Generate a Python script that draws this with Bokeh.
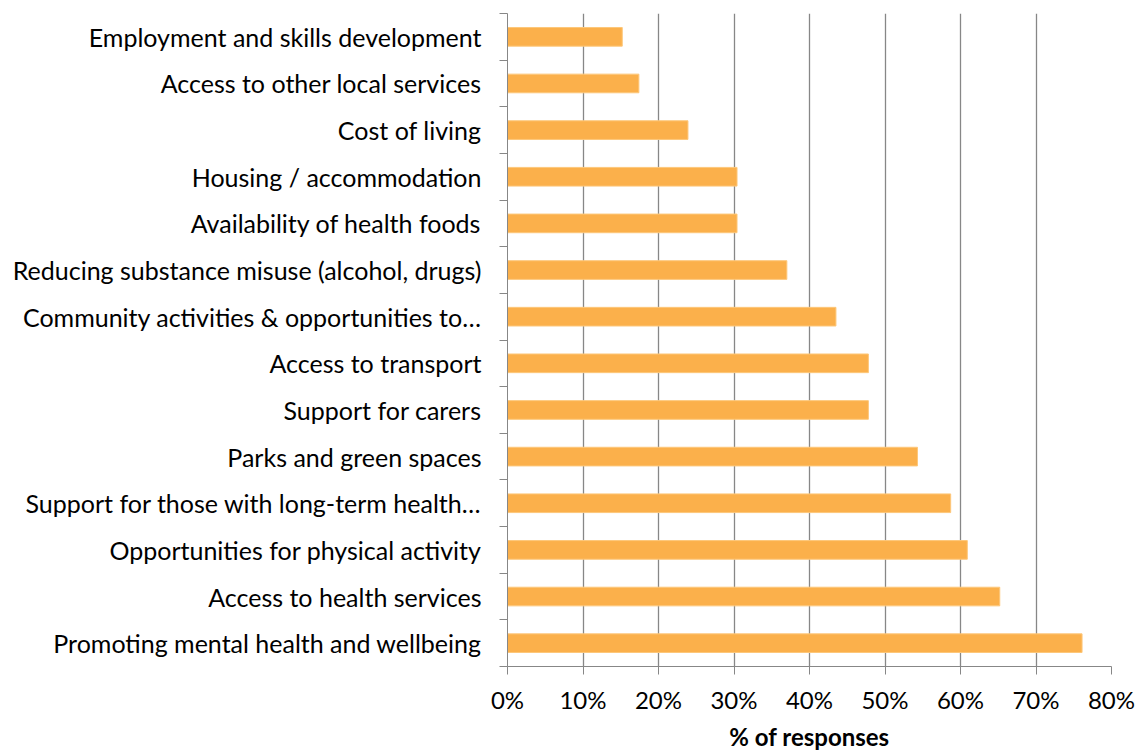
from bokeh.plotting import figure
from bokeh.models import FixedTicker, Range1d, ColumnDataSource, NumeralTickFormatter
from bokeh.embed import file_html
from bokeh.resources import INLINE

# bottom-to-top order
categories = [
    "Promoting mental health and wellbeing",
    "Access to health services",
    "Opportunities for physical activity",
    "Support for those with long-term health…",
    "Parks and green spaces",
    "Support for carers",
    "Access to transport",
    "Community activities & opportunities to…",
    "Reducing substance misuse (alcohol, drugs)",
    "Availability of health foods",
    "Housing / accommodation",
    "Cost of living",
    "Access to other local services",
    "Employment and skills development",
]
values = [0.761, 0.652, 0.609, 0.587, 0.543, 0.478, 0.478, 0.435, 0.370, 0.304, 0.304, 0.239, 0.174, 0.152]
x_ticks = [0, 0.1, 0.2, 0.3, 0.4, 0.5, 0.6, 0.7, 0.8]
x_title = "% of responses"

n = len(categories)
centers = [i + 0.5 for i in range(n)]
bounds = list(range(n + 1))

src = ColumnDataSource(dict(y=centers, v=values))

FONT = "Lato"
GRAY = "#878787"

p = figure(width=1139, height=753, output_backend="svg", toolbar_location=None,
           x_range=Range1d(0, 0.8), y_range=Range1d(0, n),
           min_border_left=507, min_border_right=28, min_border_top=13, min_border_bottom=85)
p.outline_line_color = None

p.hbar(y="y", right="v", left=0, height=0.4, source=src, fill_color="#FBB04B",
       line_color="#FDC77A", line_width=1)

# x axis
p.xaxis.ticker = FixedTicker(ticks=x_ticks)
p.xaxis.formatter = NumeralTickFormatter(format="0%")
p.xaxis.axis_line_color = GRAY
p.xaxis.major_tick_line_color = GRAY
p.xaxis.major_tick_out = 8
p.xaxis.major_tick_in = 0
p.xaxis.minor_tick_line_color = None
p.xaxis.major_label_text_font = FONT
p.xaxis.major_label_text_font_size = "24px"
p.xaxis.major_label_text_color = "#000000"
p.xaxis.major_label_standoff = 10
p.xaxis.axis_label = x_title
p.xaxis.axis_label_text_font = FONT
p.xaxis.axis_label_text_font_size = "24px"
p.xaxis.axis_label_text_font_style = "bold"
p.xaxis.axis_label_text_color = "#000000"
p.xaxis.axis_label_standoff = 5

# y axis
p.yaxis.ticker = FixedTicker(ticks=centers, minor_ticks=bounds)
p.yaxis.major_label_overrides = {c: lab for c, lab in zip(centers, categories)}
p.yaxis.axis_line_color = GRAY
p.yaxis.major_tick_line_color = None
p.yaxis.major_tick_out = 0
p.yaxis.major_tick_in = 0
p.yaxis.minor_tick_line_color = GRAY
p.yaxis.minor_tick_out = 8
p.yaxis.minor_tick_in = 0
p.yaxis.major_label_text_font = FONT
p.yaxis.major_label_text_font_size = "25px"
p.yaxis.major_label_text_color = "#000000"
p.yaxis.major_label_standoff = 18

p.xgrid.ticker = FixedTicker(ticks=x_ticks[1:])
p.xgrid.grid_line_color = GRAY
p.xgrid.grid_line_width = 1.3
p.ygrid.grid_line_color = None

open("out.html", "w").write(file_html(p, INLINE))
